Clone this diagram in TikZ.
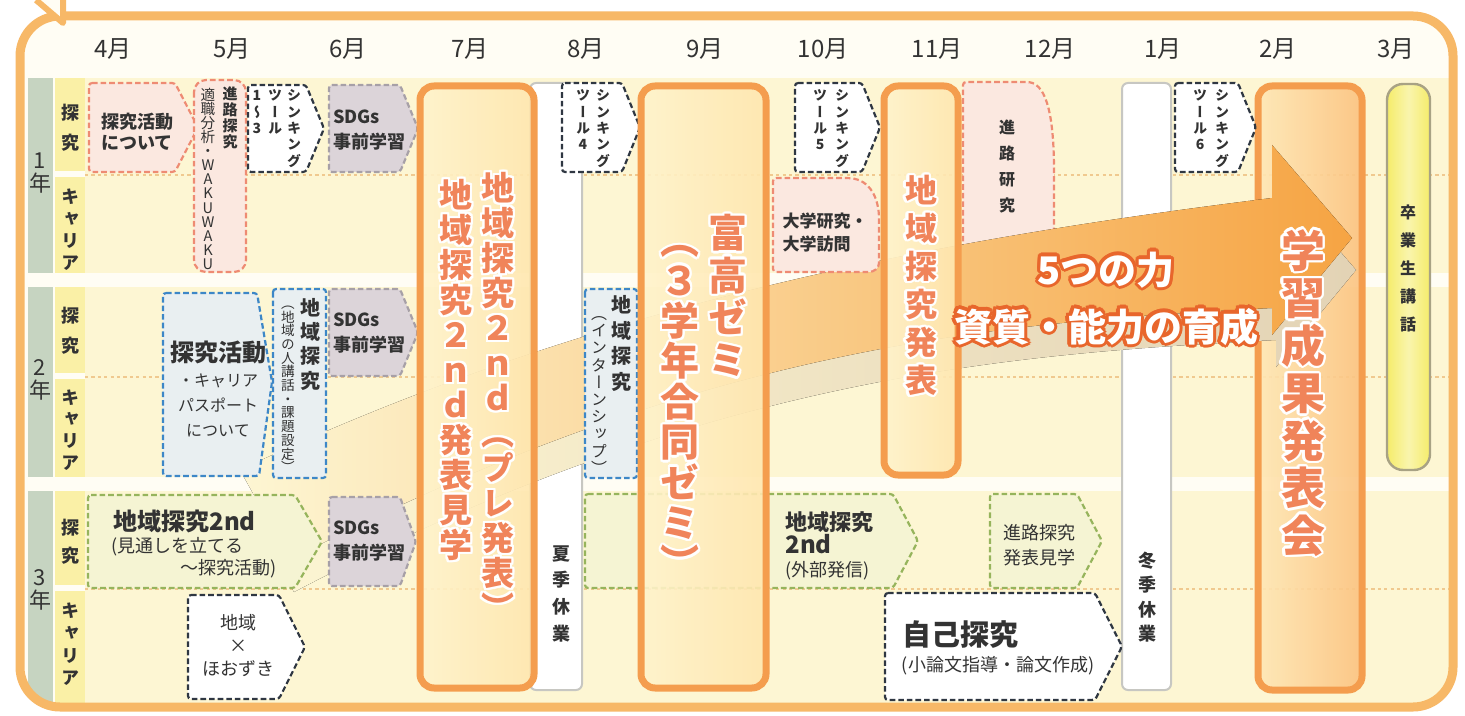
\documentclass[tikz,border=0pt]{standalone}
\usepackage{fontspec}
\setmainfont{Noto Sans CJK JP}
\newfontfamily\vfont[RawFeature=+vert]{Noto Sans CJK JP}
\usepackage[copies]{contour}
\contourlength{1.2pt}

\definecolor{framecol}{HTML}{F7B867}
\definecolor{hdrcream}{HTML}{FFFDF4}
\definecolor{blockyellow}{HTML}{FDF6D3}
\definecolor{cellyellow}{HTML}{FAF0A6}
\definecolor{yearcol}{HTML}{C6D4C1}
\definecolor{rowdot}{HTML}{F0C98F}
\definecolor{boxorange}{HTML}{F49D4E}
\definecolor{creamA}{HTML}{FFF3CB}
\definecolor{creamB}{HTML}{FFFBEB}
\definecolor{creamC}{HTML}{FFE6AE}
\definecolor{seikaA}{HTML}{FFE7B5}
\definecolor{seikaB}{HTML}{FFF4DC}
\definecolor{seikaC}{HTML}{FBC27F}
\definecolor{ink}{HTML}{333333}
\definecolor{orntext}{HTML}{F0845A}
\definecolor{navy}{HTML}{2F3742}
\definecolor{salmon}{HTML}{EE8B73}
\definecolor{pinkfill}{HTML}{FBE8E0}
\definecolor{bluedash}{HTML}{3D87C7}
\definecolor{bluefill}{HTML}{E9EFF1}
\definecolor{greendash}{HTML}{96B45C}
\definecolor{greenfill}{HTML}{F5F4D3}
\definecolor{graydash}{HTML}{A7A0A7}
\definecolor{grayfill}{HTML}{DCD4D9}
\definecolor{restgray}{HTML}{C7C7C2}
\definecolor{kouwafill}{HTML}{F5EC6A}
\definecolor{kouwaedge}{HTML}{A8A284}
\definecolor{arrowlight}{HTML}{FBD8A0}
\definecolor{arroworange}{HTML}{F6A443}
\definecolor{arrowdeep}{HTML}{E8662C}
\definecolor{shadowtan}{HTML}{E3D3B5}

\newcommand{\hsz}[2]{\fontsize{#1}{#2}\selectfont}
\newcommand{\vsz}[2]{\vfont\fontsize{#1}{#2}\selectfont}
\newcommand{\wc}[1]{\contour{white}{#1}}
% arrow shaped tag: [style]{x1}{y1}{x2}{y2}{tip x}
\newcommand{\tagpath}[6][]{\path[#1] (#2,#3) -- (#4,#3) -- (#6,{(#3+#5)/2}) -- (#4,#5) -- (#2,#5) -- cycle;}

% vertical text: one character per line
\ExplSyntaxOn
\seq_new:N \l_vstack_seq
\NewDocumentCommand\vt{O{}m}
  {
    \seq_clear:N \l_vstack_seq
    \tl_map_inline:nn {#2} { \seq_put_right:Nn \l_vstack_seq { #1{##1} } }
    \rule{0pt}{.88em}\seq_use:Nn \l_vstack_seq {\\}
  }
\ExplSyntaxOff

\begin{document}
\begin{tikzpicture}[
    x=0.5pt, y=-0.5pt,
    frameline/.style={draw=framecol, line width=4.5pt, rounded corners=20pt},
    rowline/.style={draw=rowdot, line width=0.9pt, dash pattern=on 1.6pt off 1.6pt},
    restbox/.style={draw=restgray, line width=1pt, fill=white, rounded corners=3pt},
    bigbox/.style={draw=boxorange, line width=3.5pt, rounded corners=7pt, left color=creamA, middle color=creamB, right color=creamC, fill opacity=.9},
    tagline/.style={line width=1.1pt, dash pattern=on 2.8pt off 1.5pt, rounded corners=1.5pt},
    navytag/.style={tagline, draw=navy, fill=white},
    pinktag/.style={tagline, draw=salmon, fill=pinkfill},
    bluetag/.style={tagline, draw=bluedash, fill=bluefill},
    greentag/.style={tagline, draw=greendash, fill=greenfill},
    graytag/.style={tagline, draw=graydash, fill=grayfill},
    vcol/.style={align=center, anchor=north, inner sep=0pt, text=ink},
    htext/.style={align=center, inner sep=0pt, text=ink},
    month/.style={font=\hsz{12}{13}, text=ink},
    arrowshape/.style={insert path={(240,470) .. controls (600,300) and (950,238) .. (1272,198) -- (1272,145) -- (1352,238) -- (1272,335) -- (1272,308) .. controls (1000,322) and (700,345) .. (290,560) -- cycle}}
]
    \useasboundingbox (0,0) rectangle (1465,716);
    \fill[white] (0,0) rectangle (1465,716);

    % background grid
    \begin{scope}
        \clip[rounded corners=18pt] (22,19) rectangle (1451,704);
        \fill[hdrcream] (22,19) rectangle (1451,704);
        \fill[blockyellow] (85,78) rectangle (1451,273);
        \fill[blockyellow] (85,287) rectangle (1451,477);
        \fill[blockyellow] (85,491) rectangle (1451,704);
        \fill[yearcol] (28,78) rectangle (53,273);
        \fill[yearcol] (28,287) rectangle (53,477);
        \fill[yearcol] (28,491) rectangle (53,704);
        \fill[cellyellow] (55,78) rectangle (85,171);
        \fill[cellyellow] (55,177) rectangle (85,273);
        \fill[cellyellow] (55,287) rectangle (85,373);
        \fill[cellyellow] (55,379) rectangle (85,477);
        \fill[cellyellow] (55,491) rectangle (85,585);
        \fill[cellyellow] (55,591) rectangle (85,704);
        \draw[rowline] (85,175) -- (1451,175);
        \draw[rowline] (85,377) -- (1451,377);
        \draw[rowline] (85,589) -- (1451,589);
    \end{scope}
    \draw[frameline] (20,16) rectangle (1453,707);
    \fill[hdrcream] (36,0) -- (63,23) -- (63,0) -- cycle;
    \draw[framecol, line width=3pt, line join=round] (36,0) -- (63,23) -- (63,0);

    % months
    \foreach \x/\m [count=\i] in {113/4,232/5,348/6,470/7,586/8,705/9,823/10,937/11,1050/12,1163/1,1278/2,1396/3}
        \node[month] (m\i) at (\x,49) {\m 月};

    % holidays and graduate talk
    \path[restbox] (530,83) rectangle (582,690);
    \path[restbox] (1122,83) rectangle (1171,690);
    \path[draw=kouwaedge, line width=1.2pt, left color=kouwafill, right color=kouwafill, middle color=kouwafill!55!white, rounded corners=8pt] (1387,84) rectangle (1430,470);

    % career research (under the arrow)
    \fill[pinkfill] (963,82) -- (1030,82) .. controls (1050,90) and (1054,130) .. (1054,175) -- (1054,240) -- (963,255) -- cycle;
    \draw[tagline, draw=salmon] (963,250) -- (963,82) -- (1030,82) .. controls (1050,90) and (1054,130) .. (1054,175) -- (1054,232);

    \path[bigbox, left color=seikaA, middle color=seikaB, right color=seikaC] (1258,86) rectangle (1362,690);

    % big arrow
    \fill[left color=blockyellow, right color=shadowtan, shift={(4,32)}, arrowshape];
    \fill[left color=blockyellow, middle color=arrowlight, right color=arroworange, arrowshape];

    % 1st year
    \tagpath[pinktag]{89}{83}{175}{172}{198}
    \path[pinktag, rounded corners=6pt] (194,80) rectangle (246,272);
    \tagpath[navytag]{248}{85}{306}{172}{324}
    \tagpath[graytag]{329}{85}{400}{172}{418}
    \tagpath[navytag]{562}{83}{622}{172}{640}
    \tagpath[navytag]{795}{83}{862}{172}{880}
    \path[pinktag] (773,178) -- (848,178) .. controls (870,180) and (879,198) .. (879,222) -- (879,260) .. controls (879,268) and (874,272) .. (866,272) -- (773,272) -- cycle;
    \tagpath[navytag]{1175}{83}{1238}{172}{1256}

    % 2nd year
    \path[bluetag] (163,293) -- (257,293) -- (272,382) -- (259,476) -- (163,476) -- cycle;
    \path[bluetag] (273,289) rectangle (326,478);
    \tagpath[graytag]{329}{289}{400}{376}{418}
    \path[bluetag] (585,289) rectangle (637,478);

    % 3rd year
    \tagpath[greentag]{88}{495}{295}{588}{322}
    \tagpath[graytag]{329}{497}{400}{586}{416}
    \tagpath[navytag]{188}{595}{279}{699}{305}
    \tagpath[greentag]{585}{494}{893}{588}{918}
    \tagpath[greentag]{990}{494}{1077}{588}{1102}
    \tagpath[navytag]{885}{593}{1095}{700}{1122}

    % main events
    \path[bigbox] (420,86) rectangle (534,688);
    \path[bigbox] (641,86) rectangle (766,688);
    \path[bigbox] (884,86) rectangle (958,475);

    % row labels
    \node[vcol, font=\vsz{11}{11.5}] (y1) at (40,149) {\vt{1年}};
    \node[vcol, font=\vsz{11}{11.5}] (y2) at (40,356) {\vt{2年}};
    \node[vcol, font=\vsz{11}{11.5}] (y3) at (40,566) {\vt{3年}};
    \node[vcol, font=\vsz{9}{15}\bfseries] (t1) at (70,103) {\vt{探究}};
    \node[vcol, font=\vsz{9}{11}\bfseries] (c1) at (70,187) {\vt{キャリア}};
    \node[vcol, font=\vsz{9}{15}\bfseries] (t2) at (70,306) {\vt{探究}};
    \node[vcol, font=\vsz{9}{10.8}\bfseries] (c2) at (70,388) {\vt{キャリア}};
    \node[vcol, font=\vsz{9}{14}\bfseries] (t3) at (70,518) {\vt{探究}};
    \node[vcol, font=\vsz{9}{11.2}\bfseries] (c3) at (70,601) {\vt{キャリア}};

    % 1st year texts
    \node[htext, font=\hsz{9}{10.5}\bfseries] (intro) at (137,132) {探究活動\\について};
    \node[vcol, font=\vsz{7.5}{8}\bfseries] (shinro) at (230,86) {\vt{進路探究}};
    \node[vcol, font=\vsz{7.3}{7.05}] (tekishoku) at (208,87) {\vt{適職分析・WAKUWAKU}};
    \node[vcol, font=\vsz{7}{8.2}\bfseries] (think1a) at (294,88) {\vt{シンキング}};
    \node[vcol, font=\vsz{7}{8.2}\bfseries] (think1b) at (275,88) {\vt{ツール}};
    \node[vcol, font=\vsz{7}{8.2}\bfseries] (think1c) at (257,88) {\vt{1〜3}};
    \node[htext, align=left, font=\hsz{9}{12.5}\bfseries] (sdgs1) at (369,130) {SDGs\\事前学習};
    \node[vcol, font=\vsz{7}{8.2}\bfseries] (think4a) at (603,88) {\vt{シンキング}};
    \node[vcol, font=\vsz{7}{8.2}\bfseries] (think4b) at (583,88) {\vt{ツール4}};
    \node[vcol, font=\vsz{7}{8.2}\bfseries] (think5a) at (842,88) {\vt{シンキング}};
    \node[vcol, font=\vsz{7}{8.2}\bfseries] (think5b) at (820,88) {\vt{ツール5}};
    \node[htext, align=left, font=\hsz{8.5}{11.5}\bfseries] (daigaku) at (825,232) {大学研究・\\大学訪問};
    \node[vcol, font=\vsz{8}{13}\bfseries] (kenkyu) at (1007,119) {\vt{進路研究}};
    \node[vcol, font=\vsz{7}{8.2}\bfseries] (think6a) at (1222,88) {\vt{シンキング}};
    \node[vcol, font=\vsz{7}{8.2}\bfseries] (think6b) at (1200,88) {\vt{ツール6}};
    \node[vcol, font=\vsz{8}{14}\bfseries] (kouwa) at (1408,204) {\vt{卒業生講話}};

    % 2nd year texts
    \node[htext, font=\hsz{8}{12.5}] (katsudo) at (218,389) {{\hsz{12}{12.5}\bfseries 探究活動}\\・キャリア\\パスポート\\について};
    \node[vcol, font=\vsz{10}{12.2}\bfseries] (chiiki2a) at (310,297) {\vt{地域探究}};
    \node[vcol, font=\vsz{6.8}{6.85}] (chiiki2b) at (288,296) {\vt{（地域の人講話・課題設定）}};
    \node[htext, align=left, font=\hsz{9}{12.5}\bfseries] (sdgs2) at (369,333) {SDGs\\事前学習};
    \node[vcol, font=\vsz{10}{12.7}\bfseries] (intern1) at (621,295) {\vt{地域探究}};
    \node[vcol, font=\vsz{8}{8.6}] (intern2) at (599,305) {\vt{（インターンシップ）}};

    % 3rd year texts
    \node[htext, anchor=west, font=\hsz{12}{13}\bfseries] (chiiki3) at (113,521) {地域探究2nd};
    \node[htext, anchor=west, font=\hsz{9}{10}] (mitoshi) at (111,547) {(見通しを立てる};
    \node[htext, anchor=east, font=\hsz{9}{10}] (katsudo3) at (277,569) {〜探究活動)};
    \node[htext, align=left, font=\hsz{9}{12.5}\bfseries] (sdgs3) at (369,541) {SDGs\\事前学習};
    \node[htext, font=\hsz{9}{11.5}] (hoozuki) at (238,646) {地域\\×\\ほおずき};
    \node[htext, anchor=west, align=left, font=\hsz{9}{11.5}] (gaibu) at (785,546) {{\hsz{11}{12}\bfseries 地域探究}\\{\hsz{12}{12}\bfseries 2nd}\\(外部発信)};
    \node[htext, font=\hsz{9}{12.5}] (kengaku) at (1039,545) {進路探究\\発表見学};
    \node[htext, anchor=west, font=\hsz{14.5}{15}\bfseries] (jiko) at (902,635) {自己探究};
    \node[htext, font=\hsz{9}{10}] (ronbun) at (998,666) {(小論文指導・論文作成)};

    % holidays
    \node[vcol, font=\vsz{9}{13.3}\bfseries] (natsu) at (561,544) {\vt{夏季休業}};
    \node[vcol, font=\vsz{9}{12.2}\bfseries] (fuyu) at (1147,551) {\vt{冬季休業}};

    % main event titles
    \node[vcol, text=orntext, font=\vsz{16.5}{17.5}\bfseries] (pre) at (498,171) {\vt[\wc]{地域探究２ｎｄ（プレ発表）}};
    \node[vcol, text=orntext, font=\vsz{16.5}{17.5}\bfseries] (kengaku2) at (456,178) {\vt[\wc]{地域探究２ｎｄ発表見学}};
    \node[vcol, text=orntext, font=\vsz{19.5}{21.2}\bfseries] (tomi) at (728,213) {\vt[\wc]{富高ゼミ}};
    \node[vcol, text=orntext, font=\vsz{19.5}{20.2}\bfseries] (goudou) at (680,220) {\vt[\wc]{（３学年合同ゼミ）}};
    \node[vcol, text=orntext, font=\vsz{16}{19}\bfseries] (happyo) at (921,174) {\vt[\wc]{地域探究発表}};
    \node[vcol, text=orntext, font=\vsz{22}{23.75}\bfseries] (seika) at (1303,228) {\vt[\wc]{学習成果発表会}};

    % arrow caption
    \node[htext, text=white, font=\hsz{19}{28.5}\bfseries\contourlength{1.6pt}] (power) at (1106,300) {\contour{arrowdeep}{5つの力}\\\contour{arrowdeep}{資質・能力の育成}};
\end{tikzpicture}
\end{document}
